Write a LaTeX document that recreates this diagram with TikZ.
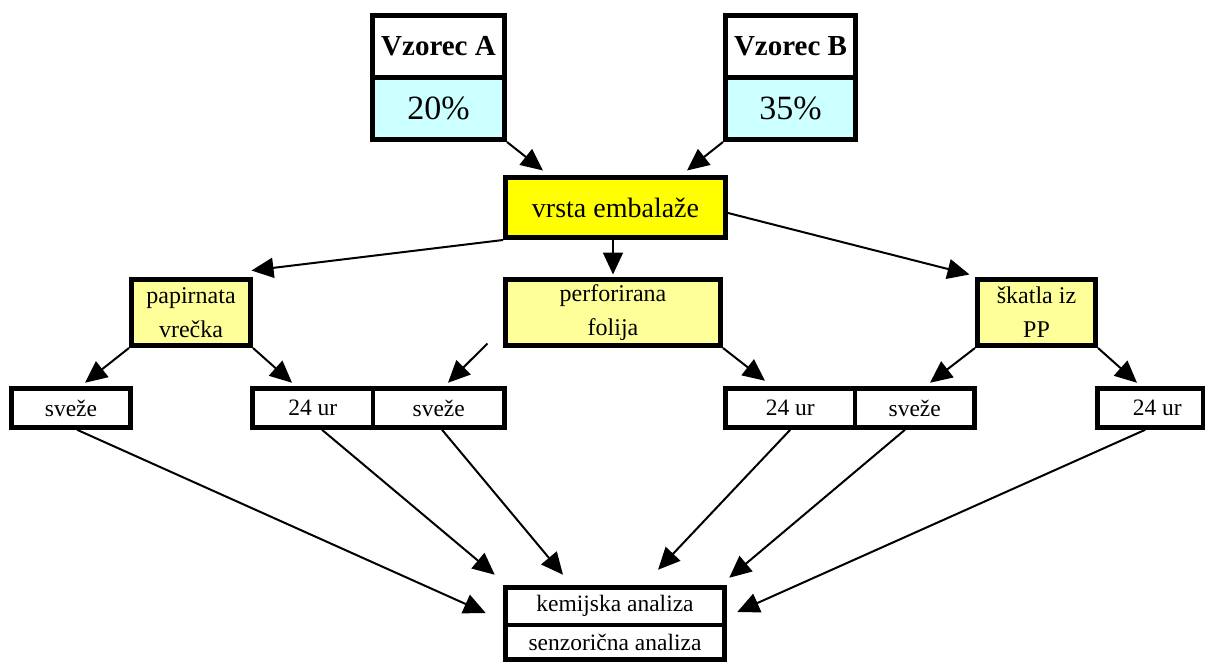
\documentclass[tikz,border=0pt]{standalone}
\usepackage{fontspec}
\setmainfont{Liberation Serif}
\usetikzlibrary{arrows.meta}
\definecolor{lcyan}{HTML}{CCFFFF}
\definecolor{lyel}{HTML}{FFFF99}
\definecolor{yel}{HTML}{FFFF00}
\tikzset{
  box/.style={draw=black, line width=5pt, rectangle, inner sep=0pt, anchor=center, fill=white},
  sbox/.style={box, line width=4.5pt, font=\fontsize{23.5}{26}\selectfont, minimum height=39pt},
  ybox/.style={box, fill=lyel, align=center, font=\fontsize{24}{34}\selectfont, minimum height=66pt},
  arr/.style={line width=2pt, -{Triangle[length=22pt,width=20pt]}},
}
\begin{document}
\begin{tikzpicture}[x=1pt,y=-1pt]
\useasboundingbox (0,0) rectangle (1208,662);
% header boxes
\node[box, minimum width=132pt, minimum height=61.5pt, font=\fontsize{29}{33}\selectfont\bfseries] (A1) at (438.5,46.25) {Vzorec A};
\node[box, fill=lcyan, minimum width=132pt, minimum height=62.5pt, font=\fontsize{34}{37}\selectfont] (A2) at (438.5,108.25) {20\%};
\node[box, minimum width=130pt, minimum height=61.5pt, font=\fontsize{29}{33}\selectfont\bfseries] (B1) at (790.5,46.25) {Vzorec B};
\node[box, fill=lcyan, minimum width=130pt, minimum height=62.5pt, font=\fontsize{34}{37}\selectfont] (B2) at (790.5,108.25) {35\%};
% main
\node[box, fill=yel, minimum width=220pt, minimum height=60pt, font=\fontsize{28}{31}\selectfont] (V) at (615.5,207.5) {vrsta embalaže};
% packaging
\node[ybox, minimum width=119pt] (P) at (191,312.5) {papirnata\\vrečka};
\node[ybox, minimum width=215pt] (F) at (613,312.5) {perforirana\\folija};
\node[ybox, minimum width=118pt] (S) at (1036.5,312.5) {škatla iz\\PP};
% row
\node[sbox, minimum width=119pt] (svL) at (71,408) {sveže};
\node[sbox, minimum width=120.5pt] (l24) at (312.75,408) {24 ur};
\node[sbox, minimum width=131.5pt] (svM) at (438.75,408) {sveže};
\node[sbox, minimum width=129.5pt] (r24) at (790.25,408) {24 ur};
\node[sbox, minimum width=119.5pt] (svR) at (914.75,408) {sveže};
\node[sbox, minimum width=105.5pt] (f24) at (1150.25,408) {\hspace{14pt}24 ur};
% bottom
\node[sbox, minimum width=219pt, minimum height=37.5pt] (K1) at (615,606.25) {kemijska analiza};
\node[sbox, minimum width=219pt, minimum height=34.5pt] (K2) at (615,642.25) {senzorična analiza};
\coordinate (fstub) at ([xshift=-15.5pt,yshift=4.5pt]F.south west);
% arrows
\draw[arr] (A2.south east) -- ([xshift=-72.5pt,yshift=4.5pt]V.north);
\draw[arr] (B2.south west) -- ([xshift=71.5pt,yshift=4.5pt]V.north);
\draw[arr] (V.south west) -- ([xshift=-1.5pt,yshift=6.5pt]P.north east);
\draw[arr] ([xshift=-2.5pt]V.south) -- ([yshift=2.5pt]F.north);
\draw[arr] ([yshift=-5.5pt]V.east) -- ([xshift=-5.5pt,yshift=2.5pt]S.north west);
\draw[arr] (P.south west) -- ([xshift=14pt,yshift=3.5pt]svL.north);
\draw[arr] (P.south east) -- ([xshift=-20.75pt,yshift=3.5pt]l24.north);
\draw[arr] (fstub) -- ([xshift=9.25pt,yshift=3.5pt]svM.north);
\draw[arr] (F.south east) -- ([xshift=-25.25pt,yshift=5.5pt]r24.north);
\draw[arr] (S.south west) -- ([xshift=15.25pt,yshift=3.5pt]svR.north);
\draw[arr] (S.south east) -- ([xshift=-13.25pt,yshift=3.5pt]f24.north);
\draw[arr] ([xshift=6pt]svL.south) -- ([xshift=-17.5pt,yshift=-6.75pt]K1.west);
\draw[arr] ([xshift=9.25pt]l24.south) -- ([xshift=-8.5pt,yshift=10.5pt]K1.north west);
\draw[arr] ([xshift=3.25pt]svM.south) -- ([xshift=-52pt,yshift=10.5pt]K1.north);
\draw[arr] (r24.south) -- ([xshift=43pt,yshift=15.5pt]K1.north);
\draw[arr] ([xshift=-9.75pt]svR.south) -- ([xshift=2.5pt,yshift=7.5pt]K1.north east);
\draw[arr] ([xshift=-5pt]f24.south) -- ([xshift=10.5pt,yshift=-5.75pt]K1.east);
\end{tikzpicture}
\end{document}
